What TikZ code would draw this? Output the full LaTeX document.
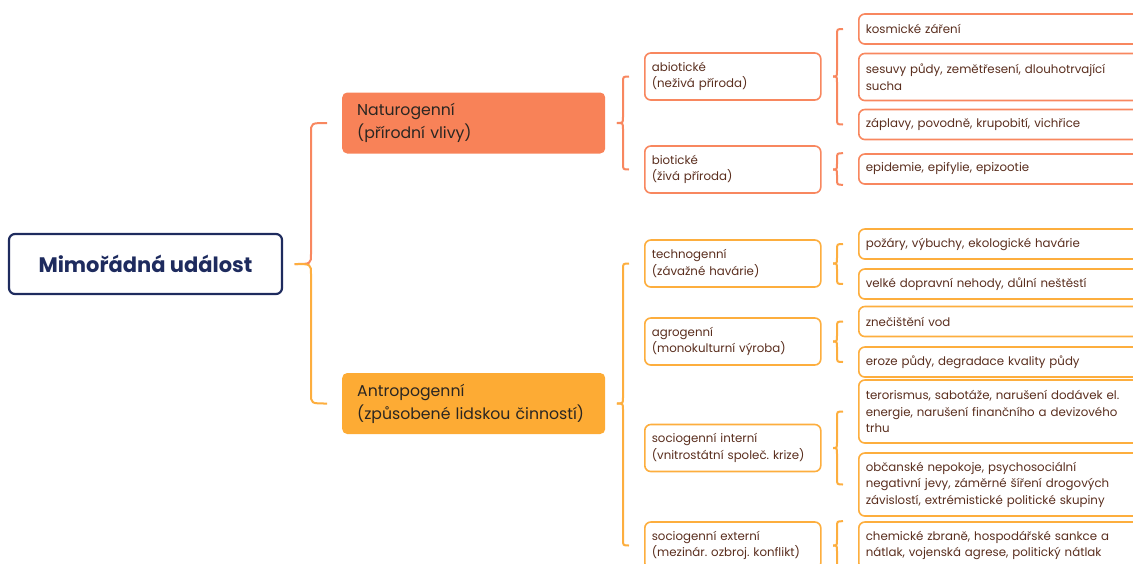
\documentclass[tikz,border=0pt]{standalone}
\usepackage{fontspec}
\setmainfont{Poppins}
\usetikzlibrary{calc}
\frenchspacing
\definecolor{navy}{HTML}{1E2B5E}
\definecolor{coral}{HTML}{F88258}
\definecolor{orng}{HTML}{FDAB34}
\definecolor{coralline}{HTML}{F8875F}
\definecolor{orngline}{HTML}{FDAE3E}
\definecolor{brn}{HTML}{5A2E1E}
\definecolor{darktxt}{HTML}{2A2622}
\newcommand\brc[7]{%
  \draw[#1] let \p1=(#3.east),\p2=(#4),\p3=(#5) in
    ({\x2-15pt},\y2) .. controls ({\x2-#6},\y2) .. ({\x2-#6},{\y2-#7})
    -- ({\x2-#6},{\y1+#7}) .. controls ({\x2-#6},\y1) .. ({\x1+11.5pt},\y1);
  \draw[#2] let \p1=(#3.east),\p2=(#4),\p3=(#5) in
    ({\x1+11.5pt},\y1) .. controls ({\x2-#6},\y1) .. ({\x2-#6},{\y1-#7})
    -- ({\x2-#6},{\y3+#7}) .. controls ({\x2-#6},\y3) .. ({\x2-15pt},\y3);
}
\begin{document}
\begin{tikzpicture}[x=1pt,y=-1pt,
  lvlzero/.style={draw=navy, line width=2.2pt, rounded corners=6pt, minimum width=273pt,
    minimum height=60pt, font=\fontsize{21}{25}\selectfont\bfseries, text=navy},
  lvlone/.style={rounded corners=5pt, minimum height=61pt, text width=233pt, inner xsep=15pt,
    align=left, anchor=west, font=\fontsize{15.7}{23}\selectfont, text=darktxt},
  boxbase/.style={line width=1.6pt, rounded corners=6pt, fill=white, align=left, anchor=west,
    font=\fontsize{11.8}{16.5}\selectfont, text=brn, inner xsep=7pt},
  lvltwo/.style={boxbase, minimum height=47pt, text width=162pt},
  leaf/.style={boxbase, text width=286pt},
  natc/.style={draw=coralline},
  antc/.style={draw=orngline},
  bn/.style={draw=coralline, line width=2pt},
  ba/.style={draw=orngline, line width=2pt},
  h1/.style={minimum height=30pt},
  h2/.style={minimum height=47pt},
  h3/.style={minimum height=63pt}]
\useasboundingbox (0,0) rectangle (1133,563);
\clip (0,0) rectangle (1133,563);

\node[lvlzero] (root) at (145.5,264) {Mimořádná událost};
\node[lvlone, fill=coral] (nat) at (342,123) {Naturogenní\\(přírodní vlivy)};
\node[lvlone, fill=orng] (ant) at (342,403.5) {Antropogenní\\(způsobené lidskou činností)};

\node[lvltwo, natc] (abio) at (644,76.5) {abiotické\\(neživá příroda)};
\node[lvltwo, natc] (bio) at (644,169.5) {biotické\\(živá příroda)};
\node[lvltwo, antc] (tech) at (644,263.5) {technogenní\\(závažné havárie)};
\node[lvltwo, antc] (agro) at (644,341.5) {agrogenní\\(monokulturní výroba)};
\node[lvltwo, antc] (sint) at (644,448) {sociogenní interní\\(vnitrostátní společ. krize)};
\node[lvltwo, antc] (sext) at (644,545.5) {sociogenní externí\\(mezinár. ozbroj. konflikt)};

\node[leaf, natc, h1] (l1) at (858,29) {kosmické záření};
\node[leaf, natc, h2] (l2) at (858,77) {sesuvy půdy, zemětřesení, dlouhotrvající\\sucha};
\node[leaf, natc, h1] (l3) at (858,124.5) {záplavy, povodně, krupobití, vichřice};
\node[leaf, natc, h1] (l4) at (858,169) {epidemie, epifylie, epizootie};
\node[leaf, antc, h1] (l5) at (858,244) {požáry, výbuchy, ekologické havárie};
\node[leaf, antc, h1] (l6) at (858,284) {velké dopravní nehody, důlní neštěstí};
\node[leaf, antc, h1] (l7) at (858,321.5) {znečištění vod};
\node[leaf, antc, h1] (l8) at (858,362) {eroze půdy, degradace kvality půdy};
\node[leaf, antc, h3] (l9) at (858,411.5) {terorismus, sabotáže, narušení dodávek el.\\energie, narušení finančního a devizového\\trhu};
\node[leaf, antc, h3] (l10) at (858,484.5) {občanské nepokoje, psychosociální\\negativní jevy, záměrné šíření drogových\\závislostí, extrémistické politické skupiny};
\node[leaf, antc, h2] (l11) at (858,545.5) {chemické zbraně, hospodářské sankce a\\nátlak, vojenská agrese, politický nátlak};

\brc{bn}{ba}{root}{nat.west}{ant.west}{31pt}{10pt}
\brc{bn}{bn}{nat}{abio.west}{bio.west}{21pt}{6pt}
\brc{ba}{ba}{ant}{tech.west}{sext.west}{21pt}{6pt}
\brc{bn}{bn}{abio}{l1.west}{l3.west}{21pt}{6pt}
\brc{bn}{bn}{bio}{l4.north west}{l4.south west}{21pt}{6pt}
\brc{ba}{ba}{tech}{l5.west}{l6.west}{21pt}{6pt}
\brc{ba}{ba}{agro}{l7.west}{l8.west}{21pt}{6pt}
\brc{ba}{ba}{sint}{l9.west}{l10.west}{21pt}{6pt}
\brc{ba}{ba}{sext}{l11.north west}{l11.south west}{21pt}{6pt}
\end{tikzpicture}
\end{document}
